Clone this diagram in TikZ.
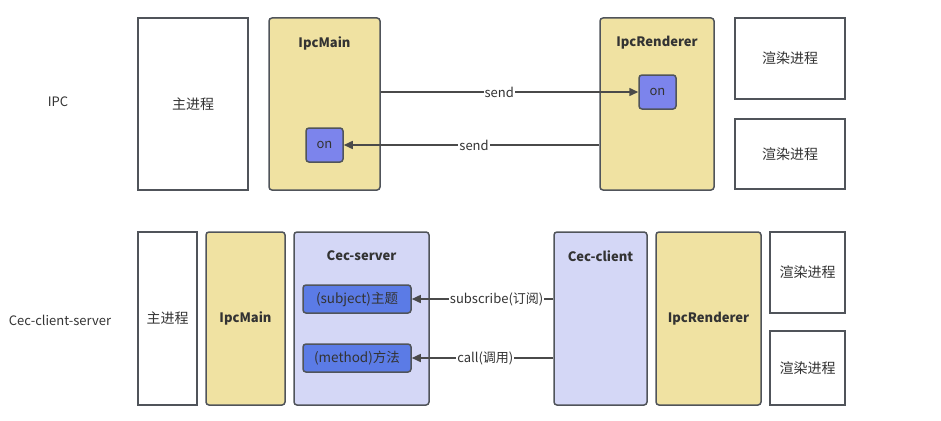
\documentclass[tikz,border=0pt]{standalone}
\usepackage{fontspec}
\setmainfont{Noto Sans CJK SC}
\usetikzlibrary{arrows.meta}
\definecolor{boxline}{HTML}{50545A}
\definecolor{linegray}{HTML}{4A4A4A}
\definecolor{textgray}{HTML}{333333}
\definecolor{ipcyellow}{HTML}{F0E2A2}
\definecolor{cecblue}{HTML}{D4D7F6}
\definecolor{onblue}{HTML}{7C84EC}
\definecolor{topicblue}{HTML}{5B7BE6}
\begin{document}
\begin{tikzpicture}[x=1pt,y=-1pt,
  every node/.style={font=\fontsize{13}{15}\selectfont, text=textgray},
  procbox/.style={draw=boxline, line width=1.5pt, fill=white, inner sep=0pt, font=\fontsize{14}{16}\selectfont},
  ipcbox/.style={procbox, fill=ipcyellow, rounded corners=3pt},
  cecbox/.style={procbox, fill=cecblue, rounded corners=3pt},
  onbox/.style={procbox, fill=onblue, rounded corners=3pt, font=\fontsize{13}{15}\selectfont},
  topicbox/.style={procbox, fill=topicblue, rounded corners=3pt, font=\fontsize{13.5}{15}\selectfont},
  boxtitle/.style={font=\fontsize{13}{15}\selectfont\bfseries},
  link/.style={draw=linegray, line width=1.5pt, -{Triangle[length=9pt,width=8pt]}},
  linklabel/.style={fill=white, inner sep=1pt}]
\useasboundingbox (0,0) rectangle (941,420);

% IPC
\node (ipclabel) at (58,102) {IPC};
\node[procbox, minimum width=110pt, minimum height=172pt] (main1) at (193,104) {主进程};
\node[ipcbox, minimum width=111pt, minimum height=172pt] (ipcmain1) at (324.5,104) {};
\node[boxtitle] (ipcmain1t) at (324.5,43) {IpcMain};
\node[onbox, minimum width=37pt, minimum height=34pt] (onL) at (324.5,145) {on};
\node[ipcbox, minimum width=114pt, minimum height=172pt] (ipcrend1) at (657,104) {};
\node[boxtitle] (ipcrend1t) at (657,43) {IpcRenderer};
\node[onbox, minimum width=37pt, minimum height=34pt] (onR) at (657.5,92) {on};
\node[procbox, minimum width=110pt, minimum height=81pt] (render1) at (790,58.5) {渲染进程};
\node[procbox, minimum width=110pt, minimum height=70pt] (render2) at (790,154) {渲染进程};

\draw[link] (ipcmain1.east |- onR.west) -- (onR.west) node[linklabel, pos=0.46] {send};
\draw[link] (ipcrend1.west |- onL.east) -- (onL.east) node[linklabel, pos=0.49] {send};

% Cec-client-server
\node (ceclabel) at (60,320) {Cec-client-server};
\node[procbox, minimum width=59pt, minimum height=173pt] (main2) at (167.5,318.5) {主进程};
\node[ipcbox, minimum width=79pt, minimum height=173pt, font=\fontsize{13}{15}\selectfont\bfseries] (ipcmain2) at (245.5,318.5) {IpcMain};
\node[cecbox, minimum width=135pt, minimum height=173pt] (cecserver) at (361.5,318.5) {};
\node[boxtitle] (cecservert) at (361.5,256) {Cec-server};
\node[topicbox, minimum width=108pt, minimum height=28pt] (subject) at (357,299) {(subject)主题};
\node[topicbox, minimum width=108pt, minimum height=28pt] (method) at (357,358) {(method)方法};
\node[cecbox, minimum width=93pt, minimum height=173pt] (cecclient) at (600.5,318.5) {};
\node[boxtitle] (cecclientt) at (600.5,256) {Cec-client};
\node[ipcbox, minimum width=105pt, minimum height=173pt, font=\fontsize{13}{15}\selectfont\bfseries] (ipcrend2) at (708.5,318.5) {IpcRenderer};
\node[procbox, minimum width=75pt, minimum height=81pt] (render3) at (807.5,272.5) {渲染进程};
\node[procbox, minimum width=75pt, minimum height=74pt] (render4) at (807.5,368) {渲染进程};

\draw[link] (cecclient.west |- subject.east) -- (subject.east) node[linklabel, pos=0.4] {subscribe(订阅)};
\draw[link] (cecclient.west |- method.east) -- (method.east) node[linklabel, pos=0.48] {call(调用)};
\end{tikzpicture}
\end{document}
